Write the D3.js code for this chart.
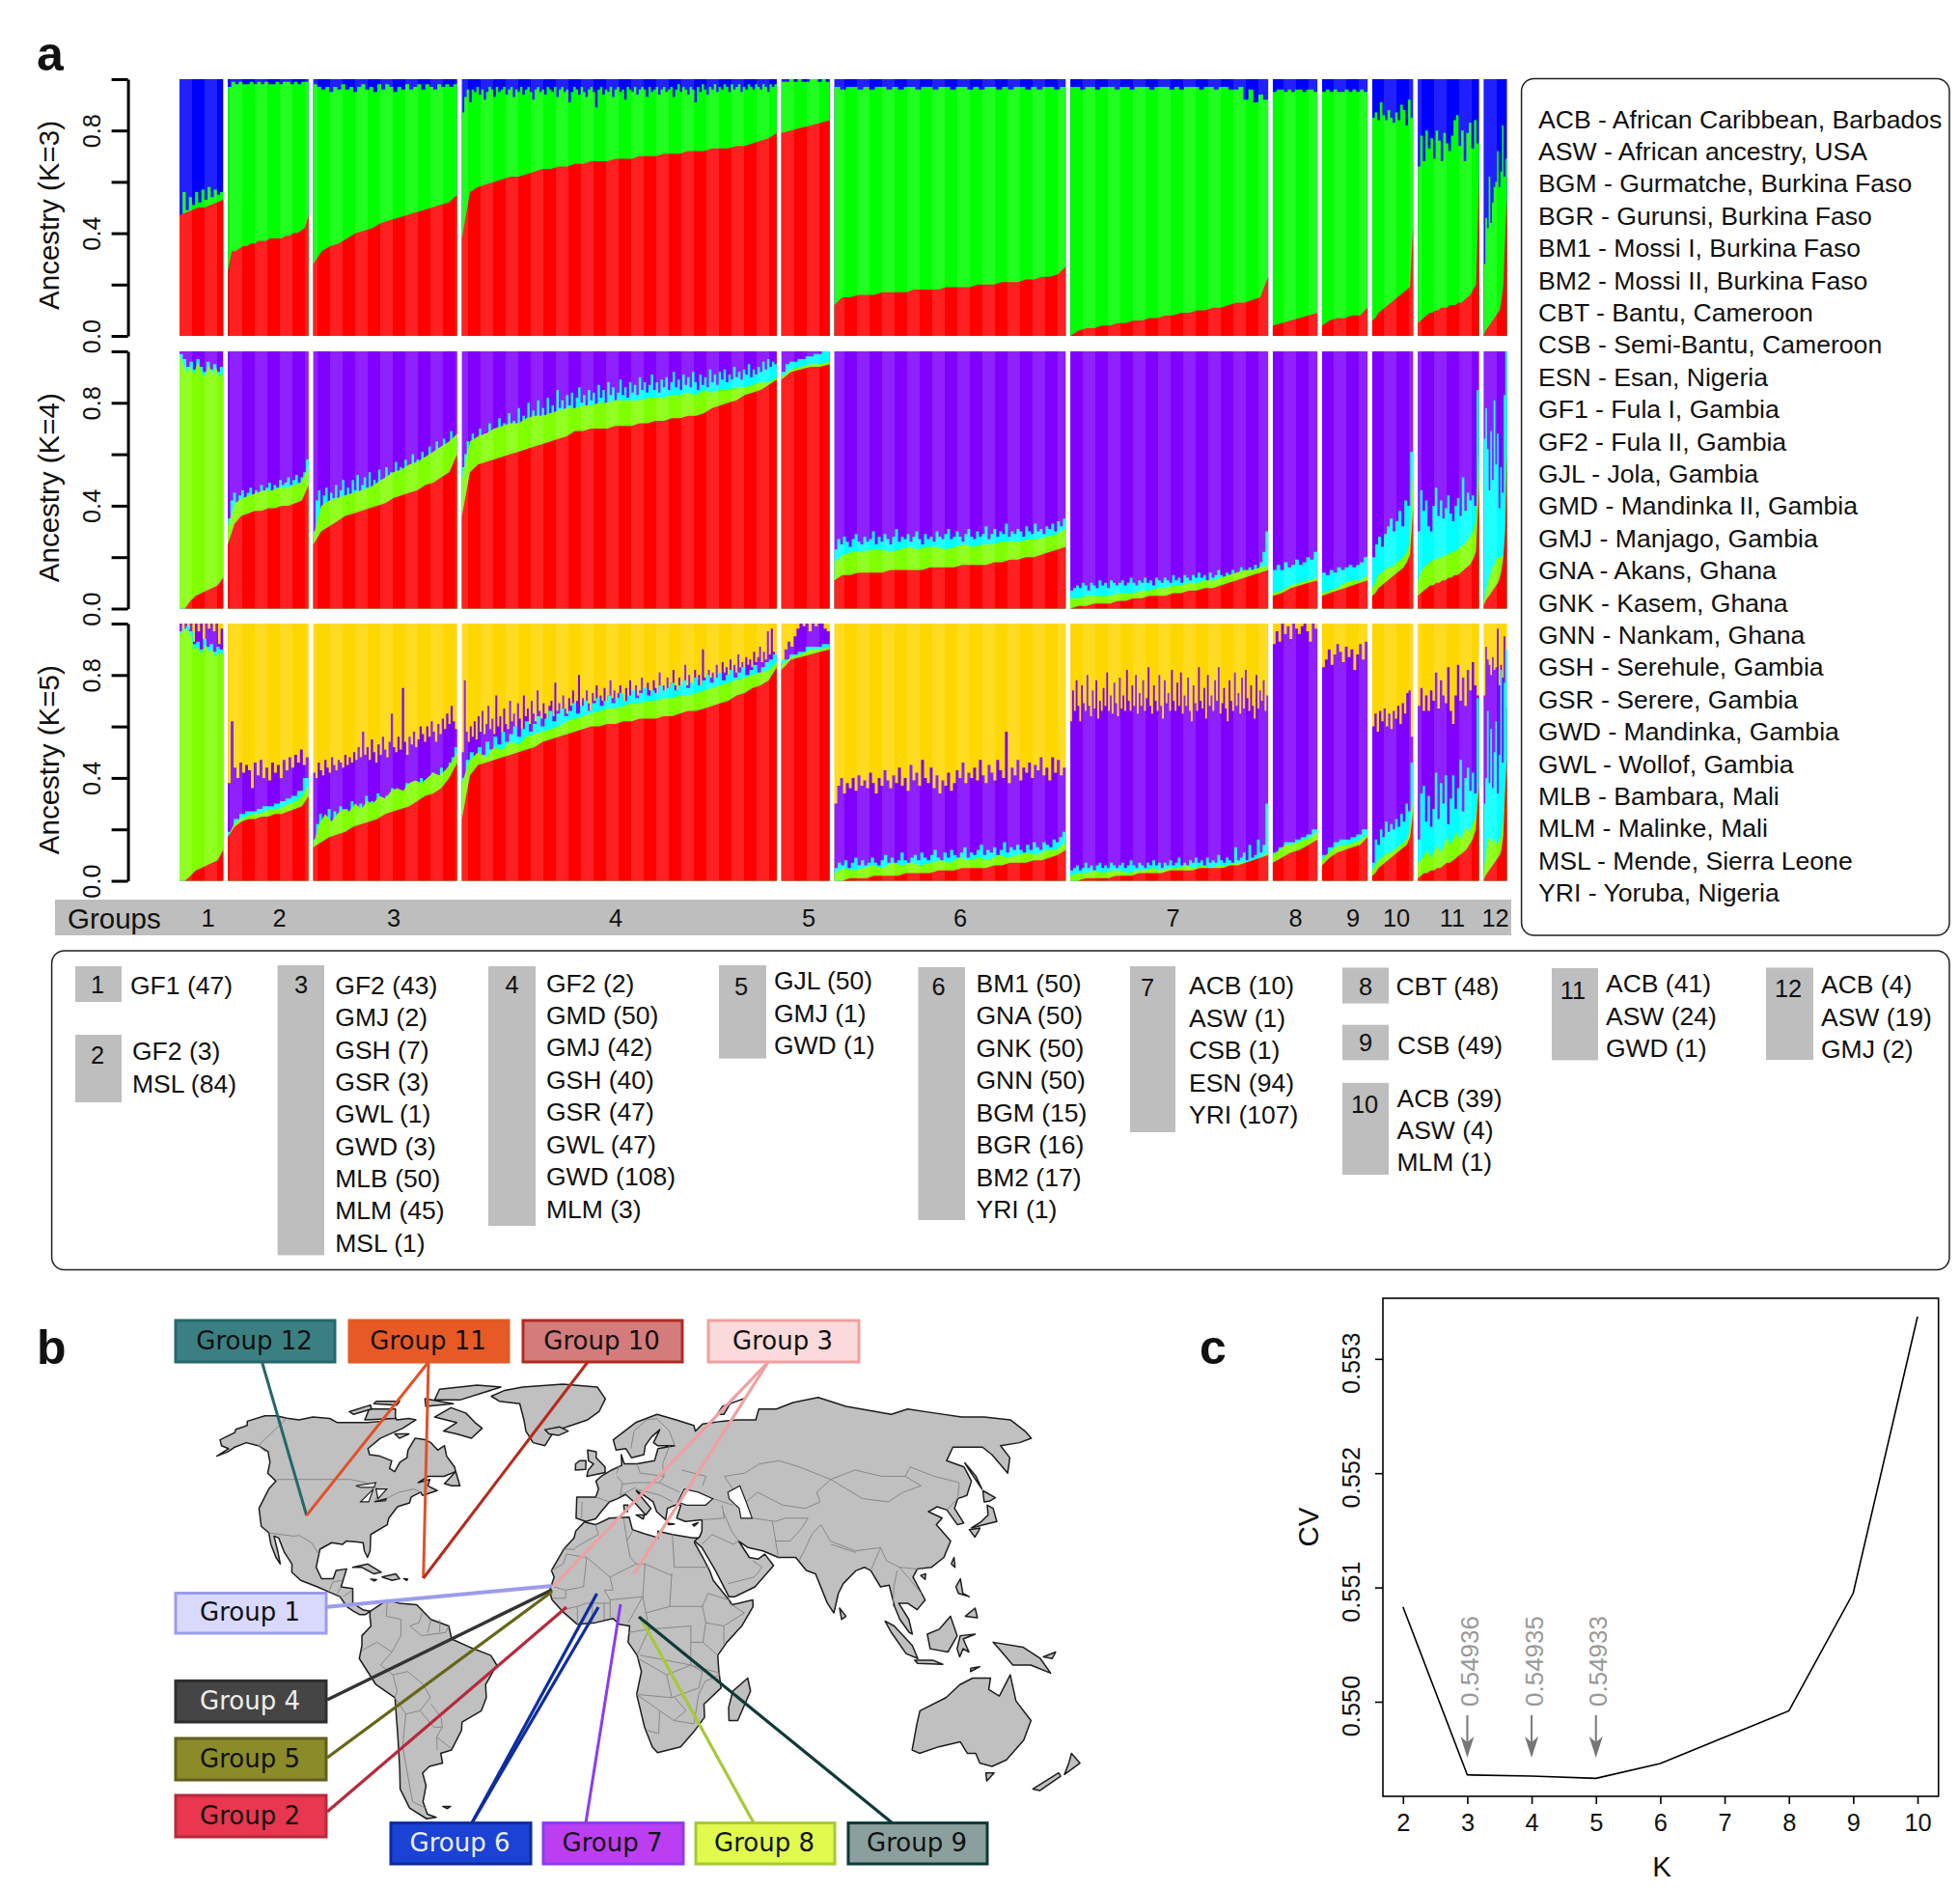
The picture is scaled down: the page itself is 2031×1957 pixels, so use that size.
<!DOCTYPE html>
<html><head><meta charset="utf-8">
<script src="https://cdnjs.cloudflare.com/ajax/libs/d3/7.8.5/d3.min.js"></script>
<style>html,body{margin:0;padding:0;background:#fff}svg{display:block}text{font-family:"Liberation Sans",Arial,sans-serif;fill:#111}</style>
</head><body><div id="chart"></div>
<script>
// ---------- DATA ----------
const groupIds=["1","2","3","4","5","6","7","8","9","10","11","12"];
const groupSizes=[47,87,155,339,52,249,213,48,49,44,66,25];
const groupMembers=[
["GF1 (47)"],["GF2 (3)","MSL (84)"],
["GF2 (43)","GMJ (2)","GSH (7)","GSR (3)","GWL (1)","GWD (3)","MLB (50)","MLM (45)","MSL (1)"],
["GF2 (2)","GMD (50)","GMJ (42)","GSH (40)","GSR (47)","GWL (47)","GWD (108)","MLM (3)"],
["GJL (50)","GMJ (1)","GWD (1)"],
["BM1 (50)","GNA (50)","GNK (50)","GNN (50)","BGM (15)","BGR (16)","BM2 (17)","YRI (1)"],
["ACB (10)","ASW (1)","CSB (1)","ESN (94)","YRI (107)"],
["CBT (48)"],["CSB (49)"],["ACB (39)","ASW (4)","MLM (1)"],["ACB (41)","ASW (24)","GWD (1)"],["ACB (4)","ASW (19)","GMJ (2)"]];
const populations=["ACB - African Caribbean, Barbados","ASW - African ancestry, USA","BGM - Gurmatche, Burkina Faso","BGR - Gurunsi, Burkina Faso","BM1 - Mossi I, Burkina Faso","BM2 - Mossi II, Burkina Faso","CBT - Bantu, Cameroon","CSB - Semi-Bantu, Cameroon","ESN - Esan, Nigeria","GF1 - Fula I, Gambia","GF2 - Fula II, Gambia","GJL - Jola, Gambia","GMD - Mandinka II, Gambia","GMJ - Manjago, Gambia","GNA - Akans, Ghana","GNK - Kasem, Ghana","GNN - Nankam, Ghana","GSH - Serehule, Gambia","GSR - Serere, Gambia","GWD - Mandinka, Gambia","GWL - Wollof, Gambia","MLB - Bambara, Mali","MLM - Malinke, Mali","MSL - Mende, Sierra Leone","YRI - Yoruba, Nigeria"];

// cumulative ancestry (percent), top edge of each colour, per group
const k3Red=[[47,48,49,50,50,51,52,53],[25,33,33,34,35,35,36,36,37,37,37,38,38,38,38,39,39,40,40,41,42,47],[28,33,35,36,38,40,41,42,44,45,46,47,48,49,50,51,52,55],
[38,56,58,59,60,61,62,62,63,64,65,65,66,66,67,67,68,68,68,69,69,69,70,70,70,71,71,71,72,72,72,73,73,73,74,74,75,76,77,79],[79,80,81,82,83,84],
[12,15,15,16,16,16,17,17,17,17,18,18,18,18,19,19,19,19,20,20,20,21,21,21,22,22,23,23,24,27],
[0,2,3,3,4,4,5,5,6,6,7,7,8,8,9,9,10,10,11,11,12,13,13,14,15,23],[4,5,6,7,8,9],[4,6,7,7,8,8,11],[6,7,9,10,11,12,13,14,15,16,17,18,19,43],[5,6,7,8,9,9,10,10,11,11,11,12,12,12,13,13,14,15,16,18,20,61],[0,2,3,4,5,6,7,8,9,10,14,20,38,54]];
const k3Green=[[47,56,49,54,51,56,52,57,53,58,54,57,55,56],[97,99,98,99,98,98,99,98,99,98,99,98,98,99,98,99,99,98,99,98,99,99],
[98,97,96,97,95,97,96,98,96,97,95,97,98,96,97,95,98,96,98,97,95,97,96,98,96,97,98,96,98,97,96,98,97,98,97,98],
[87,93,96,91,96,95,97,94,96,92,95,97,96,93,97,95,96,97,94,96,97,93,96,95,97,94,96,97,95,92,96,97,95,96,94,97,96,95,97,93,96,97,95,96,91,95,97,96,94,97,95,93,96,97,95,89,96,97,94,96,95,97,93,96,97,95,96,92,97,96,95,97,94,96,97,96,93,97,95,96,97,94,96,97,95,96,97,93,96,98,95,97,96,94,97,96,91,97,95,98,96,94,97,96,98,95,97,96,98,97,95,98,96,97,98,95,97,96,98,97,96,98,97,96,98,97,95,98,97,98],
[99,99,100,99,100,99,99,100,100,99,100,99],
[97,96,97,97,96,97,96,97,97,96,97,96,97,97,96,97,97,96,97,97,96,97,97,96,97,96,97,97,96,97,96,97,97,96,97,96,97,97,96,97],
[97,97,96,97,97,96,97,97,97,96,97,97,96,97,97,97,96,97,97,97,96,97,96,97,97,97,96,97,97,96,97,97,96,96,97,92,96,91,94,92],
[95,96,96,95,96,95,96,96,95,96,96,95],[95,96,95,96,95,95,96,95,96,95,96,95],[85,87,84,91,86,84,88,85,83,87,84,90,88,82,92,85],
[66,78,68,80,73,77,69,80,76,68,79,75,72,78,84,86,74,80,68,79,83,73,84,75],[28,46,42,62,44,52,58,60,72,58,64,82,62,69]];
const k4Red=[[0,0,3,5,6,7,8,9,12],[25,33,36,37,38,38,39,39,40,40,41,42,48],[25,30,32,34,36,37,38,39,40,41,43,44,45,46,48,49,51,53,60],
[36,53,56,57,58,59,60,61,62,63,64,65,66,67,69,69,70,70,70,71,71,71,72,72,73,73,74,74,75,75,76,78,79,80,81,83,84,85,87,89],[89,92,93,94,94,95],
[11,13,13,14,14,14,14,15,15,15,15,15,16,16,16,16,17,17,17,17,18,18,19,19,20,20,21,22,23,24],
[0,1,1,2,2,2,3,3,4,4,5,5,5,6,6,7,7,8,8,9,10,11,12,13,14,15],[5,6,8,9,10,11],[5,6,7,8,9,10,11],[5,6,8,9,10,11,12,13,14,15,16,18,21,39],[5,6,7,8,9,9,10,10,11,11,12,12,13,13,14,15,16,17,19,22,48],[1,3,4,5,6,7,8,9,10,12,15,20,30,61]];
const k4Green=[[99,95,92,94,91,96,92,90,95,91,94,90,92],[32,41,43,44,45,46,46,47,47,48,49,55],[28,40,42,43,44,45,46,47,49,51,53,54,56,57,59,61,63,65,68],
[50,65,67,68,70,71,72,72,74,75,75,76,77,78,78,79,79,80,80,81,81,81,81,82,82,82,83,83,84,83,85,84,85,85,86,86,87,88,88,90],[90,93,94,95,95,96],
[18,21,22,22,23,23,22,23,24,23,24,24,23,24,25,24,25,25,26,26,26,27,27,28,29,31],
[4,4,5,5,5,5,6,6,6,7,7,8,8,9,9,10,10,11,11,12,13,14,15,15,16,17],[6,7,9,10,11,12],[6,7,8,10,11,11,13],[8,10,13,14,15,16,16,17,18,19,20,22,26,56],[10,14,16,17,18,19,19,20,20,21,21,22,22,23,24,25,26,28,30,34,60],[3,6,9,12,14,16,17,19,20,20,20,21,25,70]];
const k4Cyan=[[99,97,94,96,93,97,94,92,96,93,95,92,94],[35,42,45,41,44,46,43,45,47,44,46,45,48,46,47,49,46,48,47,50,48,49,51,48,50,52,49,51,53,58],
[30,42,46,38,44,47,41,45,43,48,42,46,50,44,47,43,50,46,52,45,48,51,47,53,46,50,48,54,50,47,55,51,53,49,57,52,55,50,58,53,56,60,54,58,52,61,56,59,63,57,60,65,58,62,66,60,64,69,62,66],
[55,60,65,62,68,64,60,70,65,68,63,72,67,70,66,74,69,72,67,76,71,73,69,78,72,75,70,80,74,77,72,81,75,78,73,82,76,79,74,85,78,81,76,83,79,84,77,82,86,80,83,78,85,81,84,79,87,82,85,80,88,83,86,81,84,89,83,86,82,88,84,87,83,90,85,88,84,87,91,85,88,84,89,86,90,85,88,92,86,89,85,91,87,90,86,92,88,85,91,87,90,86,93,88,91,87,92,89,93,88,91,89,94,90,92,89,93,91,95,90,93,91,94,92,96,93,97,94,96,95],
[92,95,96,96,97,97,98,98,99,99,100,100],
[23,27,25,28,26,24,27,29,26,25,28,26,27,30,25,28,26,29,27,25,28,31,26,28,27,29,26,28,30,27,25,29,27,28,26,30,28,27,29,31,27,28,30,28,26,29,31,28,27,30,28,29,32,27,29,31,28,30,29,33,28,30,29,31,30,28,32,30,29,33,30,31,29,32,31,33,30,34,32,35],
[7,8,9,8,10,9,7,10,9,8,11,9,10,8,11,10,9,10,11,9,10,12,10,9,11,10,12,10,11,9,12,11,10,12,11,10,13,11,12,10,13,12,11,13,12,14,12,13,11,14,12,13,15,13,12,14,13,15,13,14,16,14,13,16,15,17,15,18,22,30],
[15,17,15,18,16,17,19,17,18,20,19,22],[14,13,15,14,16,15,16,17,16,17,18,20],[20,25,28,24,29,32,35,30,34,38,32,42,40,61],
[30,46,38,42,32,30,40,47,36,42,35,39,44,37,34,40,43,36,51,38,45,42,44,40,85],[66,78,62,46,69,50,81,56,68,39,55,45,83,100]];
const k5Red=[[0,0,2,4,5,6,7,8,12],[17,21,23,24,24,25,25,26,26,27,28,29,33],[13,15,17,18,19,21,22,23,24,26,27,28,29,31,33,34,36,40,46],
[24,41,45,46,47,48,49,50,51,52,54,55,56,57,58,59,60,60,61,61,62,62,63,63,63,64,64,65,66,66,67,68,69,70,72,73,75,76,78,83],[82,86,87,88,89,90],
[0,0,1,1,1,2,2,2,2,3,3,3,3,4,4,4,5,5,5,5,6,6,7,7,7,8,8,9,10,12],
[0,0,1,1,1,1,2,2,2,3,3,3,3,4,4,4,4,5,5,5,5,6,6,7,8,9,10],[7,9,11,12,14,16],[6,9,11,12,13,14,17],[2,3,5,6,7,8,9,10,11,12,13,14,17,27],[1,2,3,3,4,4,5,5,6,7,7,8,9,10,11,12,14,16,20,38],[0,2,3,4,5,6,7,8,9,10,12,18,35,48]];
const k5Green=[[96,97,98,96,90,91,88,92,89,90,87,89,88],[17,22,24,25,26,26,27,28,28,29,30,31,33,37],
[14,22,26,23,26,28,27,30,28,31,30,33,32,35,36,35,38,39,38,40,42,41,43,46,50],
[38,47,50,48,52,51,54,53,56,57,58,59,60,62,63,64,65,66,67,67,68,69,69,70,70,71,71,72,72,73,74,75,76,77,78,79,80,81,82,85],[84,87,88,90,90,91],
[3,5,4,5,6,5,7,6,7,6,7,8,7,9,8,9,8,10,9,10,11,10,12,12,15],[2,3,3,4,3,4,4,3,4,4,5,4,5,5,6,5,6,5,6,6,7,7,8,9,11],
[10,12,14,14,15,16,17,19],[8,11,13,14,14,15,16,18],[4,6,8,9,10,11,11,12,13,14,15,16,20,32],[7,8,10,12,9,11,14,11,13,17,14,16,19,16,18,21,19,22,25,38],[4,9,15,17,16,15,16,14,15,16,18,25,35,45]];
const k5Cyan=[[97,98,99,97,92,93,90,94,91,92,89,91,90],[19,24,26,27,27,28,29,29,30,31,32,33,35,40],
[16,22,26,20,25,28,23,27,25,29,24,28,26,31,27,25,30,28,33,27,31,29,34,30,28,33,31,36,32,30,35,33,38,34,32,37,35,40,36,39,37,42,38,41,44,40,43,46,48,52],
[40,47,50,46,52,49,54,51,56,53,58,54,57,60,56,59,62,58,61,64,60,63,66,62,65,67,64,66,69,65,68,70,66,69,71,68,70,72,69,71,73,70,72,74,71,73,75,72,74,73,76,74,75,77,74,76,78,75,77,79,76,78,80,77,79,81,78,80,82,79,81,83,80,82,84,81,83,85,86,88],[86,88,89,91,91,92],
[5,7,6,8,5,7,9,6,8,6,7,9,7,6,8,10,7,9,7,8,11,8,7,9,10,8,11,9,8,10,12,9,8,11,9,12,10,9,11,13,9,11,10,12,14,10,12,11,13,10,12,15,11,13,12,14,12,11,14,12,15,13,12,15,14,13,16,15,17,19],
[4,5,6,4,5,7,5,6,4,6,7,5,6,5,7,6,5,6,7,5,6,8,6,5,7,6,5,7,6,8,6,7,5,7,6,8,6,7,9,6,7,6,8,7,9,7,8,6,9,7,8,7,10,8,7,9,8,7,13,8,9,11,8,14,9,10,16,11,14,30],
[11,13,15,15,16,17,18,20],[10,13,15,16,16,17,18,20],[7,16,14,20,17,23,19,22,20,24,21,26,23,30,27,46],
[16,34,37,23,33,21,28,42,24,38,30,41,22,32,41,28,36,47,27,40,44,35,42,34,71],[30,40,66,38,59,36,50,62,34,49,82,46,77,90]];
const k5Purple=[[100,97,100,98,100,93,100,97,100,94,100,98,100,97,100,92,98],
[38,62,44,40,46,42,45,43,36,46,41,47,40,44,39,46,42,45,40,47,43,48,44,49,46,51,45,48],
[42,40,46,43,41,47,44,42,48,45,43,47,46,44,49,45,48,46,50,47,52,48,58,49,52,47,55,50,46,53,49,56,51,48,54,65,52,50,56,51,75,54,49,56,53,58,52,55,60,57,54,60,56,62,58,54,61,57,63,59,65,61,68,62,59],
[50,78,58,54,60,56,62,55,64,58,66,57,61,68,59,63,57,72,60,64,58,67,61,59,70,62,65,60,69,63,59,72,64,67,61,70,65,62,74,66,63,69,65,62,68,70,64,77,66,69,64,72,67,65,71,68,74,66,70,80,68,71,67,74,69,66,73,70,76,68,72,70,75,69,72,78,71,74,70,73,76,72,69,75,71,78,73,70,76,72,74,79,73,71,77,74,72,78,75,72,81,74,76,73,79,75,77,82,76,74,79,76,78,84,76,80,77,75,82,78,80,76,90,79,77,82,79,81,78,84,80,78,85,81,83,80,86,82,84,81,88,83,85,82,87,84,86,83,89,85,87,91,85,89,86,97,88,98,89,88],
[85,90,93,91,95,98,100,99,100,97,100,99,100,100,98,97],
[30,37,40,34,38,36,40,35,41,37,39,36,42,38,34,40,37,43,39,36,41,38,44,37,40,35,45,39,42,37,47,40,38,44,36,41,34,39,37,42,35,38,43,40,46,38,42,40,44,39,47,41,38,45,42,39,47,43,40,58,38,44,41,47,39,44,42,46,40,45,43,48,41,44,39,48,42,47,41,44],
[62,74,66,78,68,62,76,69,66,80,68,64,74,67,78,63,70,66,75,68,81,66,72,65,77,69,64,79,67,72,66,82,70,66,76,68,80,65,73,68,78,66,71,83,68,65,76,70,66,80,68,63,78,69,73,66,82,70,66,77,68,81,65,72,68,79,66,62,76,69,66,83,70,67,75,63,80,68,72,66,78,70,83,65,69,75,67,62,78,70,66,81,68,73,65,79,67,82,71,66,76,68,63,80,67,74,70,78,66,72],
[92,97,93,100,96,99,94,100,98,96,99,100,97,93,100,98],[83,86,90,84,88,92,89,85,91,87,90,82,88,92,86,93],
[60,65,58,66,62,67,60,65,59,66,63,68,61,69,65,73,74,56],
[68,75,66,72,66,74,70,81,67,78,72,69,83,66,61,72,84,70,79,68,82,74,85,76,72],[72,91,86,84,80,87,82,83,98,76,84,79,95,67]];
const yTicks=[0,20,40,60,80,100];
const cvK=[2,3,4,5,6,7,8,9,10];
const cvValues=[0.55083,0.54936,0.54935,0.54933,0.54946,0.54969,0.54992,0.55095,0.55337];
const cvNotes=[[3,"0.54936"],[4,"0.54935"],[5,"0.54933"]];
const cvYTicks=[0.550,0.551,0.552,0.553];

// ---------- GEOGRAPHY (lon/lat outlines, generalised) ----------
const land=[
[[-156,65.6],[-154,66.5],[-153,67],[-155,68.5],[-150,70.5],[-145,70.5],[-139,69.6],[-133,69],[-128,70],[-120,69.5],[-115,68],[-108,68],[-102,68],[-96,68.5],[-94,71.5],[-90,69],[-85,69.5],[-81.5,69],[-85,66],[-87,65],[-92,62.5],[-94.5,59],[-92.5,57],[-88,56.5],[-82.5,55],[-82,52.5],[-79.5,51.5],[-79,54.5],[-77,56],[-78,58.5],[-77.5,62.5],[-73,62],[-70,61],[-66,58.5],[-64,60],[-61.5,56.5],[-57,53],[-56,51.5],[-60,50],[-66,50],[-69,48],[-65,49],[-65,47],[-61,45.5],[-66,44],[-67,45],[-70,43.5],[-70,41.7],[-74,40.5],[-76,37],[-76,35],[-81,32],[-80,27],[-80.5,25],[-82,27],[-83,29.5],[-85,29.7],[-89,30],[-90,29],[-94,29.5],[-97.5,27.5],[-97.5,22],[-95,18.5],[-91,18.5],[-90.5,21],[-87,21.5],[-88,16],[-84,15.5],[-83.5,11],[-80,9],[-77.5,8.5],[-79,7.5],[-81,7.5],[-83,8.5],[-85.5,10],[-88,13],[-92,14.5],[-96,16],[-102,18],[-105.5,20.5],[-106,23],[-109.5,26.5],[-113,31],[-114.8,31.5],[-112,27],[-110,23],[-112,25],[-115,29],[-117,32.5],[-120.5,34.5],[-124,40],[-124,46],[-123,48.5],[-128,51],[-130,54.5],[-134,58],[-140,60],[-146,61],[-149,59.5],[-150,58],[-153,56.5],[-151,59],[-155,60],[-158,62],[-155,64.5]],
[[-53,78],[-48,80.5],[-40,82],[-20,83.5],[-2,82],[2,77],[-1,72],[-6,69],[-13,67],[-20,65],[-23,60],[-28,61],[-32,65],[-34,69],[-38,75],[-48,76]],
[[-69,73.5],[-61,71.5],[-55,68],[-51,66],[-54,62.5],[-61,64],[-67,65],[-63,68],[-74,70]],[[-106,73],[-94,73],[-91,69.5],[-104,69]],[[-79,76.5],[-67,76.5],[-51,82],[-64,83],[-81,81]],[[-114,72],[-107,74.5],[-105,73],[-111,71]],[[-84,77],[-69,75],[-81,74]],[[-106,76],[-95,76],[-95,74.5],[-106,75]],[[-87,64],[-81,64],[-84,62.5]],[[-59,47.7],[-56,51.5],[-53,47],[-56,47]],
[[-85,22],[-80,23],[-75,20.5],[-77.5,20],[-82,22]],[[-74.5,19],[-70,20],[-68.5,18.5],[-71,18]],[[-78.3,18.4],[-76.3,18.2],[-77,17.8]],[[-67,18.5],[-65.7,18.4],[-66,18]],[[-24,65.5],[-18,66.5],[-14,65],[-18,63.5],[-22,64]],
[[-77.5,8.5],[-72,12],[-68,11],[-62,10.5],[-57,6],[-51,4],[-50,0],[-44,-2.5],[-37,-5],[-35,-8],[-39,-14],[-39,-18],[-41,-22],[-48,-25.5],[-48.5,-28],[-53,-34],[-57,-35],[-57,-38],[-62,-39],[-65,-41],[-65,-45],[-68,-50],[-68,-54],[-65,-55],[-69,-55.5],[-74,-52],[-75,-46],[-73,-40],[-71,-30],[-70,-18],[-76,-14],[-81,-6],[-80,-2],[-80,1],[-77,4],[-77.5,7]],
[[-61,-51.5],[-58,-51.5],[-59.5,-52.2]],
[[-6,35.8],[-2,35],[3,37],[10,37.3],[11,33.5],[15,32.3],[20,31],[20,33],[25,32],[32,31],[34,31],[32.5,29.5],[35,25],[37,21],[38,18],[43,12],[44,10.5],[51,12],[51,10],[47,4],[42,-1],[39,-5],[39.5,-10],[40.5,-15],[35,-20],[35.5,-24],[32.5,-28],[28,-33],[20,-34.8],[18,-33],[15,-27],[12,-17],[13.5,-10],[12,-5],[9,-1],[9.5,4],[6,4.5],[4,6.3],[-2,5],[-8,4.5],[-13,8.5],[-16.5,12],[-17.5,14.7],[-16,19],[-17,21],[-13,27.5],[-9.5,31],[-9,33]],
[[49.3,-12],[50.5,-16],[47,-25],[44,-25],[43.5,-21],[44.5,-16]],
[[-9,37],[-5.5,36],[-2,36.8],[0,39],[3,42],[6,43],[9,44.3],[12,42],[16,38],[18,40],[13,45.5],[15,44.5],[19,42],[20,39],[23,36.5],[24,40],[27,41],[29,41],[27,37],[30,36],[36,36.5],[35.5,33],[34.5,31.3],[32.6,30],[35,28],[39,21],[43,13],[45,13],[52,16],[59,22.5],[56.5,26],[54,24.5],[51,25],[48,30],[51,28],[56,27],[61,25],[67,25],[70,21],[73,20],[76,11],[78,8],[80,14],[82,17],[87,21],[90,22],[92,21],[94.5,16],[97.5,16.5],[98.5,10],[100,6],[103,2],[104,1.5],[103,6],[100,11],[103,11],[106,9],[109,12],[106,19],[108,21.5],[113,22],[118,25],[122,30],[119,35],[122,37],[118,39],[122,40.5],[125,39.5],[126.5,35],[129,35.5],[128,40],[131,43],[135,44],[140,48.5],[141,53],[136,55],[143,59.5],[155,59.5],[156,57],[156,51],[162,56],[163,60],[172,61],[179,62.5],[180,65],[180,69],[170,70],[160,70],[150,71.5],[140,73],[130,71],[113,74],[104,77.5],[90,75.5],[80,73],[72,73],[68,69],[60,69],[53,68.5],[44,67.5],[40,65],[40,67],[33,69],[25,71],[15,68],[5,62],[6,58.5],[10,59],[12,56],[17,57],[18,60],[21,63],[25,65.5],[21.5,61],[23,60],[30,60],[23,59],[21,55],[14,54],[9,54],[8,57],[8,53.5],[4,52],[0,50],[-2,48.5],[-1,46],[-2,43.5],[-9,43.5]],
[[-5.5,50],[1.5,51.2],[1.5,53],[-2,56],[-2,58],[-5.5,58.5],[-5,55],[-3,54],[-5,52]],[[-10,52],[-6,52.2],[-6,55],[-8.5,55],[-10,54]],[[52,71],[56,74],[68,77],[60,75],[55,71]],
[[12.5,38],[15.5,38],[15,36.7]],[[8.2,41],[9.7,41],[9.5,39],[8.4,39]],[[23.5,35.5],[26,35.2],[24,35]],[[32.5,35],[34.5,35.6],[33,34.6]],
[[131,34],[136,35],[141,36],[142,40],[140.5,41],[139,38],[135,35.7]],[[140,42],[142,45.5],[145,43.3],[142,42.2]],[[130,33.5],[134,34],[133,33],[131,31.2]],[[142,46],[143,50],[142.5,54.3],[142,51]],[[120,23],[121.5,25],[121,22]],[[108.7,19.5],[110.5,20],[110,18.3]],[[80,9.5],[82,7],[80.5,6]],
[[120,16],[122,18.5],[122,14],[124,13],[120.5,14]],[[122,7],[125.5,9.5],[126,6.5]],[[95,5.5],[98,4],[104,-2],[106,-6],[102,-4.5],[97,2]],[[105,-6.5],[111,-6.5],[114.5,-7.8],[106,-7.5]],[[109,1.5],[113,3],[117,7],[119,1],[116,-4],[110,-3]],[[120,1],[125,1.5],[121,0],[123,-4],[121,-3],[120,-5.5],[119,-3]],[[131,-1],[141,-2.5],[147,-6],[151,-10.5],[144,-8],[138,-8],[134,-4]],[[124,-9],[127,-8.5],[124,-10]],[[148,-5.5],[152,-4],[151,-6]],
[[109,-22],[117,-18],[121,-14],[125,-12],[131,-12],[131,-15.5],[135,-17.5],[137.5,-11],[141,-19],[148,-25],[148,-31],[145,-37],[141,-39],[136,-38],[133,-35],[130,-35],[126,-31.5],[119,-33],[113,-35],[110,-34],[109,-26]],
[[140,-41],[143,-41],[142,-43.5]],[[167,-35],[172,-38],[169,-41.5],[168,-38]],[[166.5,-41],[168,-42],[164,-46.5],[161,-46]]];
const water=[[[47,45],[52,47],[53,42],[54,37],[50,37],[50,40],[47,43]],[[28,42],[31,46],[36,45],[41,43],[38,41],[31,41]],[[-92,47],[-85,48],[-85,46.5],[-90,46.5]],[[-88,42],[-85,46],[-85,42]],[[-84,46],[-80,46],[-82,43]],[[-83,42],[-79,43],[-79,42.4]]];
const borders=[
[[-123,49],[-95,49],[-89,48],[-83,46],[-82.5,42],[-79,43],[-75,45],[-70,46],[-67,45]],[[-139,69.6],[-140,60],[-135,58]],[[-117,32.5],[-108,31.5],[-106,31.7],[-101,29.5],[-97.5,26]],[[-92,14.5],[-91,17.5],[-88,18]],[[-89,14],[-88,16]],[[-87,13],[-84,15]],
[[-72,12],[-72,7],[-67,6],[-67,1],[-70,-4]],[[-80,-3.5],[-75,-1],[-70,-4],[-74,-8],[-70,-11],[-69,-16],[-70,-18]],[[-70,-11],[-65,-10],[-60,-14],[-58,-18],[-62,-22]],[[-70,-18],[-67,-23],[-70,-33],[-72,-50],[-68,-52]],[[-67,-23],[-62,-22],[-58,-27],[-55,-27],[-55,-24],[-58,-20]],[[-58,-34],[-57.5,-30],[-53,-33.5]],[[-55,-27],[-57.5,-30]],[[-60,8],[-61,5],[-64,4],[-60,1],[-52,2],[-51,4]],[[-57,6],[-58,2]],[[-54,6],[-54,2]],
[[-2,35],[-1,32],[-9,28]],[[-13,27.5],[-9,27.5]],[[-17,21],[-13,23],[-12,26],[-5,25],[-6,16],[-12,15],[-16,16]],[[-5,25],[3,19],[4,15],[1,15],[3,12]],[[9,30],[10,25],[12,23]],[[8,37],[9,30],[11,33]],[[3,19],[12,23],[15,23],[24,19.5],[24,20]],[[25,32],[25,22],[37,22]],[[24,20],[23,10]],[[15,23],[14,13]],[[3,12],[3,6.5]],[[3,12],[14,13],[9,5]],[[14,13],[15,8],[23,10]],[[15,8],[16,3],[30,4]],[[23,10],[34,10],[36,14],[43,12]],[[34,10],[35,5],[41,4],[48,8],[43,11]],[[35,5],[34,-1],[39,-5]],[[41,4],[41,-1.5]],[[9,2],[16,3],[12,-5]],[[13,-5],[30,-8],[30,4]],[[12,-5.8],[22,-11],[24,-18],[12,-17]],[[22,-11],[30,-8],[34,-10],[33,-15],[30,-16],[24,-18]],[[30,-8],[40,-10.5]],[[34,-1],[30,-1]],[[40,-11],[35,-13],[33,-17],[32,-26]],[[12,-17],[20,-22],[20,-29],[16,-28]],[[20,-22],[25,-25],[29,-22],[25,-18]],[[25,-25],[32,-26]],[[-8,4.5],[-8,10]],[[-3,5],[-3,11]],[[1,6],[1,11]],[[-13,9],[-8,10],[-5,11],[3,11]],[[-12,15],[-12,12.5],[-16.5,12.5]],
[[30,60],[29,65],[25,69]],[[12,59],[14,65],[20,69],[25,69.5]],[[28,60],[24,54],[24,50],[22,48],[29,45]],[[31,52],[40,50],[38,47]],[[6,50],[8,48],[7,44]],[[-2,43.5],[3,42]],[[-7,42],[-7,37]],[[14,54],[15,51],[24,50]],[[6,51],[7,53.5]],[[13,48],[22,48]],[[13,48],[8,47.5]],[[7,44],[13,46.5]],[[13,46],[22,44],[26,42]],
[[49,46],[47,50],[55,51],[62,54],[70,55],[77,53],[87,49],[98,52],[107,50],[116,50],[120,53],[127,50],[135,48],[131,43]],[[87,49],[96,43],[105,42],[112,45],[120,47],[116,50]],[[87,49],[80,45],[80,42]],[[53,42],[58,45],[66,41],[74,40],[80,42]],[[54,37],[62,36],[66,37],[74,37]],[[61,30],[66,30],[71,34],[74,37]],[[44,39],[46,33],[48,30]],[[61,25],[61,36]],[[36,36.5],[44,37],[44,41]],[[41,43],[48,41]],[[35,29],[39,32],[46,29],[48,30]],[[43,17],[52,19],[55,22],[52,24]],[[68,24],[71,28],[74,32],[78,35],[80,30],[88,27],[97,28]],[[80,29],[88,26.5]],[[92,21],[94,24],[97,28],[98,24],[102,22],[108,21.5]],[[98,10],[99,16],[101,21]],[[102,22],[105,18],[108,14]],[[125,39.5],[130,42.5]]];

// ---------- LAYOUT ----------
const W=2031,H=1957;
const svg=d3.select("#chart").append("svg").attr("width",W).attr("height",H).attr("viewBox",`0 0 ${W} ${H}`);
const sans='"Liberation Sans",Arial,sans-serif';
const gapUnits=5, total=d3.sum(groupSizes)+gapUnits*(groupSizes.length-1);
const xUnit=d3.scaleLinear().domain([0,total]).range([186,1561.5]);
let cum=0;
const groupSpans=groupSizes.map(n=>{const s=[xUnit(cum),xUnit(cum+n)];cum+=n+gapUnits;return s;});

const RED="#ff0000",GRN="#00ff00",BLU="#0000ff",PUR="#8000ff",CYN="#00ffff",LIM="#80ff00",GLD="#ffd700";
const panels=[
 {label:"Ancestry (K=3)",top:82,bottom:348,base:BLU,layers:[[k3Green,GRN,true],[k3Red,RED,false]]},
 {label:"Ancestry (K=4)",top:364,bottom:630.5,base:PUR,layers:[[k4Cyan,CYN,true],[k4Green,LIM,false],[k4Red,RED,false]]},
 {label:"Ancestry (K=5)",top:646,bottom:912.5,base:GLD,layers:[[k5Purple,PUR,true],[k5Cyan,CYN,true],[k5Green,LIM,false],[k5Red,RED,false]]}];
const bandW=13;
panels.forEach(p=>{
  const y=d3.scaleLinear().domain([0,100]).range([p.bottom,p.top]);
  const g=svg.append("g");
  groupSpans.forEach((sp,gi)=>{
    const gg=g.append("g");
    gg.append("rect").attr("x",sp[0]).attr("y",p.top).attr("width",sp[1]-sp[0]).attr("height",p.bottom-p.top).attr("fill",p.base);
    p.layers.forEach(([series,col,stepped])=>{
      const vals=series[gi];
      const pts=stepped?vals.concat(vals[vals.length-1]):vals;
      const sx=d3.scaleLinear().domain([0,pts.length-1]).range(sp);
      gg.append("path").attr("fill",col)
        .attr("d",d3.area().curve(stepped?d3.curveStepAfter:d3.curveLinear).x((d,i)=>sx(i)).y0(p.bottom).y1(d=>y(d))(pts));
    });
    // moire bands of the original raster
    const first=Math.floor((sp[0]-186)/bandW);
    d3.range(first,Math.ceil((sp[1]-186)/bandW)).filter(k=>k%2===0).forEach(k=>{
      const a=Math.max(sp[0],186+k*bandW),b=Math.min(sp[1],186+(k+1)*bandW);
      if(b>a) gg.append("rect").attr("x",a).attr("y",p.top).attr("width",b-a).attr("height",p.bottom-p.top).attr("fill","#fff").attr("opacity",0.13);
    });
  });
  const ax=svg.append("g").attr("transform","translate(132.6,0)")
    .call(d3.axisLeft(y).tickValues(yTicks).tickSize(17).tickSizeOuter(0).tickFormat(d=>[0,40,80].includes(d)?(d/100).toFixed(1):""));
  ax.selectAll("path,line").attr("stroke","#000").attr("stroke-width",3).attr("fill","none");
  ax.selectAll("text").attr("x",null).attr("y",null).attr("dy",null).attr("text-anchor","middle").attr("dominant-baseline","central")
    .attr("transform","translate(-38,0) rotate(-90)").attr("font-size",25.4).attr("font-family",sans).attr("fill","#111");
  svg.append("text").attr("transform",`translate(50,${(p.top+p.bottom)/2+8}) rotate(-90)`).attr("text-anchor","middle").attr("dominant-baseline","central").attr("font-size",29.5).text(p.label);
});

// panel letters
[["a",38,72.5],["b",38,1413],["c",1243,1413]].forEach(([t,x,yy])=>svg.append("text").attr("x",x).attr("y",yy).attr("font-size",50).attr("font-weight","bold").attr("fill","#000").text(t));

// groups bar
svg.append("rect").attr("x",57).attr("y",932).attr("width",1509).attr("height",37).attr("fill","#bebebe");
svg.append("text").attr("x",70).attr("y",951).attr("dominant-baseline","central").attr("font-size",29.5).text("Groups");
const barLabelX=[215.6,289.5,408,638,838,995,1215.6,1342.5,1402,1447,1505,1549.6];
groupIds.forEach((t,i)=>svg.append("text").attr("x",barLabelX[i]).attr("y",951).attr("text-anchor","middle").attr("dominant-baseline","central").attr("font-size",25.4).text(t));

// population box
svg.append("rect").attr("x",1576.6).attr("y",81.5).attr("width",443.4).attr("height",887.5).attr("rx",13).attr("fill","#fff").attr("stroke","#222").attr("stroke-width",1.5);
const popY=d3.scaleLinear().domain([0,populations.length-1]).range([123.5,925.3]);
populations.forEach((t,i)=>svg.append("text").attr("x",1594).attr("y",popY(i)).attr("dominant-baseline","central").attr("font-size",26.6).text(t));

// group composition box
svg.append("rect").attr("x",53.6).attr("y",985).attr("width",1966.4).attr("height",330.6).attr("rx",13).attr("fill","#fff").attr("stroke","#222").attr("stroke-width",1.5);
const cells=[
 {x:78,w:48,y0:1001,y1:1038,lx:101,ly:1020,tx:135,ty:[1021]},
 {x:78,w:48,y0:1072,y1:1142,lx:101,ly:1093,tx:137,ty:[1089,1123]},
 {x:287.6,w:48.4,y0:1000,y1:1300.4,lx:312,ly:1020,tx:347.3,ty:[1021,1287.5]},
 {x:506,w:49,y0:1001,y1:1270,lx:530.6,ly:1019.5,tx:566,ty:[1018.5,1252.7]},
 {x:745,w:49,y0:1000,y1:1096.6,lx:768,ly:1022,tx:802,ty:[1016,1083]},
 {x:951.5,w:48.5,y0:1002,y1:1264,lx:972.6,ly:1022,tx:1011.5,ty:[1019,1253]},
 {x:1171,w:47,y0:1001,y1:1173,lx:1189,ly:1023,tx:1232,ty:[1021,1155]},
 {x:1391,w:48,y0:1002.5,y1:1039.6,lx:1415,ly:1021.7,tx:1446.4,ty:[1022]},
 {x:1391,w:48,y0:1061.7,y1:1098.4,lx:1415,ly:1080,tx:1448,ty:[1083]},
 {x:1391,w:48,y0:1121.8,y1:1217,lx:1414,ly:1144,tx:1447.5,ty:[1137.5,1204]},
 {x:1608,w:48,y0:1003,y1:1098.4,lx:1630,ly:1026,tx:1664,ty:[1019,1086]},
 {x:1830,w:49,y0:1002.5,y1:1098,lx:1853,ly:1024,tx:1887,ty:[1020,1087]}];
cells.forEach((c,i)=>{
  svg.append("rect").attr("x",c.x).attr("y",c.y0).attr("width",c.w).attr("height",c.y1-c.y0).attr("fill","#bebebe");
  svg.append("text").attr("x",c.lx).attr("y",c.ly).attr("text-anchor","middle").attr("dominant-baseline","central").attr("font-size",25.4).text(groupIds[i]);
  const m=groupMembers[i];
  const ly=d3.scaleLinear().domain([0,Math.max(1,m.length-1)]).range([c.ty[0],c.ty[c.ty.length-1]]);
  m.forEach((t,j)=>svg.append("text").attr("x",c.tx).attr("y",ly(j)).attr("dominant-baseline","central").attr("font-size",26.5).text(t));
});

// ---------- MAP ----------
const yStretch=0.94;
const proj=d3.geoProjection((l,p)=>{const r=d3.geoNaturalEarth1Raw(l,p);return [r[0],r[1]*yStretch];}).scale(204).translate([623,1698]);
const mapG=svg.append("g");
const closed=d3.line().curve(d3.curveLinearClosed);
const open=d3.line();
mapG.selectAll("path.land").data(land).join("path").attr("class","land").attr("d",d=>closed(d.map(proj))).attr("fill","#c0c0c0").attr("stroke","#1c1c1c").attr("stroke-width",1.5).attr("stroke-linejoin","round");
mapG.selectAll("path.border").data(borders).join("path").attr("class","border").attr("d",d=>open(d.map(proj))).attr("fill","none").attr("stroke","#888").attr("stroke-width",1);
mapG.selectAll("path.water").data(water).join("path").attr("class","water").attr("d",d=>closed(d.map(proj))).attr("fill","#fff").attr("stroke","#1c1c1c").attr("stroke-width",1.2);

const mapLabels=[
 {t:"Group 12",x:182,y:1368,w:165,h:43,fill:"#3a8082",stroke:"#25686a",ink:"#111",line:"#25686a",lw:3,links:[[271.5,1411,317.7,1570]]},
 {t:"Group 11",x:362,y:1368,w:165,h:43,fill:"#e85a25",stroke:"#e85a25",ink:"#111",line:"#e0522a",lw:3,links:[[444,1411,317.7,1570],[444,1411,438.7,1635]]},
 {t:"Group 10",x:542,y:1368,w:165,h:43,fill:"#d47c7c",stroke:"#b12a20",ink:"#111",line:"#b52a1e",lw:3,links:[[609,1411,438.7,1635]]},
 {t:"Group 3",x:734,y:1368,w:156,h:43,fill:"#fadada",stroke:"#efa0a0",ink:"#111",line:"#efa0a0",lw:3.2,links:[[796,1411,573.7,1643],[796,1411,656.6,1631]]},
 {t:"Group 1",x:182,y:1650.5,w:156,h:41.5,fill:"#d8d9fc",stroke:"#9c9cec",ink:"#111",line:"#9c9cec",lw:4,links:[[339,1664.7,572,1643]]},
 {t:"Group 4",x:182,y:1741.4,w:156,h:42.6,fill:"#454545",stroke:"#2e2e2e",ink:"#eee",line:"#333",lw:3.5,links:[[339,1761,572,1647]]},
 {t:"Group 5",x:182,y:1801,w:156,h:43,fill:"#8b8b2a",stroke:"#5f5f1f",ink:"#111",line:"#666618",lw:3.2,links:[[339,1821,572,1649]]},
 {t:"Group 2",x:182,y:1860,w:156,h:43,fill:"#e8374e",stroke:"#b52a3c",ink:"#111",line:"#b52a3c",lw:3.2,links:[[339,1877,587,1665]]},
 {t:"Group 6",x:405,y:1888.6,w:145,h:42.4,fill:"#1a42d4",stroke:"#0c2b9e",ink:"#eee",line:"#0e2da0",lw:3.2,links:[[489,1888.6,618.5,1651],[489,1888.6,620,1665]]},
 {t:"Group 7",x:563,y:1888.6,w:145,h:42.4,fill:"#bc3ef2",stroke:"#8a3cf0",ink:"#111",line:"#8a3cf0",lw:3,links:[[607,1888.6,643,1662]]},
 {t:"Group 8",x:721,y:1888.6,w:144,h:42.4,fill:"#e0fa4e",stroke:"#a8c838",ink:"#111",line:"#a8c838",lw:3.2,links:[[781,1888.6,664,1676.5]]},
 {t:"Group 9",x:879,y:1888.6,w:144,h:42.4,fill:"#8ba09e",stroke:"#0e3a38",ink:"#111",line:"#0e3a38",lw:3.2,links:[[924.5,1888.6,662,1675]]}];
mapLabels.forEach(m=>m.links.forEach(l=>svg.append("line").attr("x1",l[0]).attr("y1",l[1]).attr("x2",l[2]).attr("y2",l[3]).attr("stroke",m.line).attr("stroke-width",m.lw)));
mapLabels.forEach(m=>{
  svg.append("rect").attr("x",m.x).attr("y",m.y).attr("width",m.w).attr("height",m.h).attr("fill",m.fill).attr("stroke",m.stroke).attr("stroke-width",3);
  svg.append("text").attr("x",m.x+m.w/2-1).attr("y",m.y+m.h/2-1).attr("text-anchor","middle").attr("dominant-baseline","central").attr("font-size",26).style("font-family",'"DejaVu Sans",sans-serif').style("fill",m.ink).text(m.t);
});

// ---------- CV PLOT ----------
const cx=d3.scaleLinear().domain([2,10]).range([1453.8,1987]);
const cy=d3.scaleLinear().domain([0.550,0.553]).range([1763,1407.8]);
const fx0=1433,fx1=2008.7,fy0=1345,fy1=1861;
svg.append("rect").attr("x",fx0).attr("y",fy0).attr("width",fx1-fx0).attr("height",fy1-fy0).attr("fill","none").attr("stroke","#000").attr("stroke-width",1.6);
const xA=svg.append("g").attr("transform",`translate(0,${fy1})`).call(d3.axisBottom(cx).tickValues(cvK).tickFormat(d3.format("d")).tickSize(8).tickSizeOuter(0));
xA.select(".domain").remove();
xA.selectAll("line").attr("stroke","#000").attr("stroke-width",1.6);
xA.selectAll("text").attr("y",null).attr("dy",null).attr("transform","translate(0,27)").attr("dominant-baseline","central").attr("font-size",25.4).attr("font-family",sans).attr("fill","#111");
const yA=svg.append("g").attr("transform",`translate(${fx0},0)`).call(d3.axisLeft(cy).tickValues(cvYTicks).tickFormat(d3.format(".3f")).tickSize(8).tickSizeOuter(0));
yA.select(".domain").remove();
yA.selectAll("line").attr("stroke","#000").attr("stroke-width",1.6);
yA.selectAll("text").attr("x",null).attr("dy",null).attr("text-anchor","middle").attr("dominant-baseline","central").attr("transform","translate(-33,4) rotate(-90)").attr("font-size",25.4).attr("font-family",sans).attr("fill","#111");
svg.append("path").attr("d",d3.line().x((d,i)=>cx(cvK[i])).y(d=>cy(d))(cvValues)).attr("fill","none").attr("stroke","#000").attr("stroke-width",1.6);
svg.append("text").attr("x",1722).attr("y",1933).attr("text-anchor","middle").attr("dominant-baseline","central").attr("font-size",29.5).text("K");
svg.append("text").attr("transform","translate(1355,1582) rotate(-90)").attr("text-anchor","middle").attr("dominant-baseline","central").attr("font-size",29.5).text("CV");
cvNotes.forEach(([k,t])=>{
  const x=cx(k);
  svg.append("line").attr("x1",x).attr("x2",x).attr("y1",1777).attr("y2",1815).attr("stroke","#777").attr("stroke-width",2);
  svg.append("path").attr("d",d3.line()([[x-7,1799],[x,1821],[x+7,1799],[x,1805]])+"Z").attr("fill","#777");
  svg.append("text").attr("transform",`translate(${x+2.5},1768) rotate(-90)`).attr("dominant-baseline","central").attr("font-size",26).style("fill","#999").text(t);
});
</script></body></html>
